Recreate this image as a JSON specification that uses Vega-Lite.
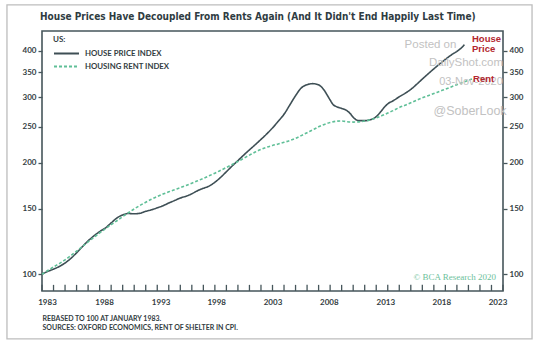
{
  "$schema": "https://vega.github.io/schema/vega-lite/v6.json",
  "width": 461,
  "height": 260,
  "autosize": "none",
  "padding": {"left": 42, "top": 31, "right": 39, "bottom": 60},
  "background": "#ffffff",
  "config": {
    "view": {"stroke": "#46565b", "strokeWidth": 1.6},
    "axis": {
      "labelFont": "Lato",
      "labelFontWeight": "bold",
      "labelFontSize": 8,
      "labelColor": "#333d42",
      "tickColor": "#46565b",
      "tickWidth": 1.3,
      "grid": false,
      "domain": false,
      "labelOverlap": false,
      "labelFlush": false
    },
    "legend": {
      "labelFont": "Lato",
      "labelFontWeight": "bold",
      "labelFontSize": 7.8,
      "labelColor": "#333d42",
      "titleFont": "Lato",
      "titleFontWeight": "bold",
      "titleFontSize": 8,
      "titleColor": "#333d42"
    }
  },
  "datasets": {
    "ticks": [
      {"year": 1983}, {"year": 1984}, {"year": 1985}, {"year": 1986}, {"year": 1987}, {"year": 1988}, {"year": 1989}, {"year": 1990}, {"year": 1991}, {"year": 1992},
      {"year": 1993}, {"year": 1994}, {"year": 1995}, {"year": 1996}, {"year": 1997}, {"year": 1998}, {"year": 1999}, {"year": 2000}, {"year": 2001}, {"year": 2002},
      {"year": 2003}, {"year": 2004}, {"year": 2005}, {"year": 2006}, {"year": 2007}, {"year": 2008}, {"year": 2009}, {"year": 2010}, {"year": 2011}, {"year": 2012},
      {"year": 2013}, {"year": 2014}, {"year": 2015}, {"year": 2016}, {"year": 2017}, {"year": 2018}, {"year": 2019}, {"year": 2020}, {"year": 2021}, {"year": 2022},
      {"year": 2023}
    ],
    "single": [{}]
  },
  "data": {
    "values": [
      {"year": 1983.0, "series": "HOUSE PRICE INDEX", "value": 100},
      {"year": 1983.5, "series": "HOUSE PRICE INDEX", "value": 101.8},
      {"year": 1984.0, "series": "HOUSE PRICE INDEX", "value": 103.2},
      {"year": 1984.5, "series": "HOUSE PRICE INDEX", "value": 104.9},
      {"year": 1985.0, "series": "HOUSE PRICE INDEX", "value": 107.2},
      {"year": 1985.5, "series": "HOUSE PRICE INDEX", "value": 110.3},
      {"year": 1986.0, "series": "HOUSE PRICE INDEX", "value": 114.2},
      {"year": 1986.5, "series": "HOUSE PRICE INDEX", "value": 118.6},
      {"year": 1987.0, "series": "HOUSE PRICE INDEX", "value": 123},
      {"year": 1987.5, "series": "HOUSE PRICE INDEX", "value": 126.8},
      {"year": 1988.0, "series": "HOUSE PRICE INDEX", "value": 130.3},
      {"year": 1988.5, "series": "HOUSE PRICE INDEX", "value": 133.2},
      {"year": 1989.0, "series": "HOUSE PRICE INDEX", "value": 137.5},
      {"year": 1989.5, "series": "HOUSE PRICE INDEX", "value": 141.8},
      {"year": 1990.0, "series": "HOUSE PRICE INDEX", "value": 144.5},
      {"year": 1990.5, "series": "HOUSE PRICE INDEX", "value": 145.8},
      {"year": 1991.0, "series": "HOUSE PRICE INDEX", "value": 145.5},
      {"year": 1991.5, "series": "HOUSE PRICE INDEX", "value": 146},
      {"year": 1992.0, "series": "HOUSE PRICE INDEX", "value": 147.8},
      {"year": 1992.5, "series": "HOUSE PRICE INDEX", "value": 149.2},
      {"year": 1993.0, "series": "HOUSE PRICE INDEX", "value": 151},
      {"year": 1993.5, "series": "HOUSE PRICE INDEX", "value": 153},
      {"year": 1994.0, "series": "HOUSE PRICE INDEX", "value": 155.6},
      {"year": 1994.5, "series": "HOUSE PRICE INDEX", "value": 158},
      {"year": 1995.0, "series": "HOUSE PRICE INDEX", "value": 160.5},
      {"year": 1995.5, "series": "HOUSE PRICE INDEX", "value": 162.3},
      {"year": 1996.0, "series": "HOUSE PRICE INDEX", "value": 164.8},
      {"year": 1996.5, "series": "HOUSE PRICE INDEX", "value": 168},
      {"year": 1997.0, "series": "HOUSE PRICE INDEX", "value": 170.5},
      {"year": 1997.5, "series": "HOUSE PRICE INDEX", "value": 172.8},
      {"year": 1998.0, "series": "HOUSE PRICE INDEX", "value": 177},
      {"year": 1998.5, "series": "HOUSE PRICE INDEX", "value": 182.5},
      {"year": 1999.0, "series": "HOUSE PRICE INDEX", "value": 189},
      {"year": 1999.5, "series": "HOUSE PRICE INDEX", "value": 195.8},
      {"year": 2000.0, "series": "HOUSE PRICE INDEX", "value": 202.5},
      {"year": 2000.5, "series": "HOUSE PRICE INDEX", "value": 209.5},
      {"year": 2001.0, "series": "HOUSE PRICE INDEX", "value": 216.5},
      {"year": 2001.5, "series": "HOUSE PRICE INDEX", "value": 223.5},
      {"year": 2002.0, "series": "HOUSE PRICE INDEX", "value": 231},
      {"year": 2002.5, "series": "HOUSE PRICE INDEX", "value": 239},
      {"year": 2003.0, "series": "HOUSE PRICE INDEX", "value": 248},
      {"year": 2003.5, "series": "HOUSE PRICE INDEX", "value": 258.5},
      {"year": 2004.0, "series": "HOUSE PRICE INDEX", "value": 270},
      {"year": 2004.5, "series": "HOUSE PRICE INDEX", "value": 286},
      {"year": 2005.0, "series": "HOUSE PRICE INDEX", "value": 303},
      {"year": 2005.5, "series": "HOUSE PRICE INDEX", "value": 318},
      {"year": 2005.75, "series": "HOUSE PRICE INDEX", "value": 322},
      {"year": 2006.0, "series": "HOUSE PRICE INDEX", "value": 324.5},
      {"year": 2006.5, "series": "HOUSE PRICE INDEX", "value": 326.5},
      {"year": 2006.9, "series": "HOUSE PRICE INDEX", "value": 325},
      {"year": 2007.25, "series": "HOUSE PRICE INDEX", "value": 320},
      {"year": 2007.5, "series": "HOUSE PRICE INDEX", "value": 313},
      {"year": 2007.75, "series": "HOUSE PRICE INDEX", "value": 304},
      {"year": 2008.0, "series": "HOUSE PRICE INDEX", "value": 295},
      {"year": 2008.25, "series": "HOUSE PRICE INDEX", "value": 287},
      {"year": 2008.5, "series": "HOUSE PRICE INDEX", "value": 283.5},
      {"year": 2008.75, "series": "HOUSE PRICE INDEX", "value": 281.5},
      {"year": 2009.0, "series": "HOUSE PRICE INDEX", "value": 280},
      {"year": 2009.5, "series": "HOUSE PRICE INDEX", "value": 275.5},
      {"year": 2009.75, "series": "HOUSE PRICE INDEX", "value": 271},
      {"year": 2010.0, "series": "HOUSE PRICE INDEX", "value": 265},
      {"year": 2010.25, "series": "HOUSE PRICE INDEX", "value": 261},
      {"year": 2010.5, "series": "HOUSE PRICE INDEX", "value": 259.5},
      {"year": 2011.0, "series": "HOUSE PRICE INDEX", "value": 259.5},
      {"year": 2011.5, "series": "HOUSE PRICE INDEX", "value": 261},
      {"year": 2012.0, "series": "HOUSE PRICE INDEX", "value": 266},
      {"year": 2012.5, "series": "HOUSE PRICE INDEX", "value": 277},
      {"year": 2012.75, "series": "HOUSE PRICE INDEX", "value": 283},
      {"year": 2013.0, "series": "HOUSE PRICE INDEX", "value": 288},
      {"year": 2013.5, "series": "HOUSE PRICE INDEX", "value": 294},
      {"year": 2014.0, "series": "HOUSE PRICE INDEX", "value": 301},
      {"year": 2014.5, "series": "HOUSE PRICE INDEX", "value": 307.5},
      {"year": 2015.0, "series": "HOUSE PRICE INDEX", "value": 315},
      {"year": 2015.5, "series": "HOUSE PRICE INDEX", "value": 325},
      {"year": 2016.0, "series": "HOUSE PRICE INDEX", "value": 336},
      {"year": 2016.5, "series": "HOUSE PRICE INDEX", "value": 347},
      {"year": 2017.0, "series": "HOUSE PRICE INDEX", "value": 358},
      {"year": 2017.5, "series": "HOUSE PRICE INDEX", "value": 369},
      {"year": 2018.0, "series": "HOUSE PRICE INDEX", "value": 379.5},
      {"year": 2018.5, "series": "HOUSE PRICE INDEX", "value": 390},
      {"year": 2019.0, "series": "HOUSE PRICE INDEX", "value": 399},
      {"year": 2019.4, "series": "HOUSE PRICE INDEX", "value": 408},
      {"year": 2019.65, "series": "HOUSE PRICE INDEX", "value": 416},
      {"year": 1983.0, "series": "HOUSING RENT INDEX", "value": 100},
      {"year": 1983.5, "series": "HOUSING RENT INDEX", "value": 102.3},
      {"year": 1984.0, "series": "HOUSING RENT INDEX", "value": 104.6},
      {"year": 1984.5, "series": "HOUSING RENT INDEX", "value": 106.8},
      {"year": 1985.0, "series": "HOUSING RENT INDEX", "value": 109.3},
      {"year": 1985.5, "series": "HOUSING RENT INDEX", "value": 112.2},
      {"year": 1986.0, "series": "HOUSING RENT INDEX", "value": 115.4},
      {"year": 1986.5, "series": "HOUSING RENT INDEX", "value": 118.7},
      {"year": 1987.0, "series": "HOUSING RENT INDEX", "value": 122.2},
      {"year": 1987.5, "series": "HOUSING RENT INDEX", "value": 125.7},
      {"year": 1988.0, "series": "HOUSING RENT INDEX", "value": 129.2},
      {"year": 1988.5, "series": "HOUSING RENT INDEX", "value": 132.6},
      {"year": 1989.0, "series": "HOUSING RENT INDEX", "value": 136},
      {"year": 1989.5, "series": "HOUSING RENT INDEX", "value": 139.4},
      {"year": 1990.0, "series": "HOUSING RENT INDEX", "value": 143},
      {"year": 1990.5, "series": "HOUSING RENT INDEX", "value": 146.5},
      {"year": 1991.0, "series": "HOUSING RENT INDEX", "value": 150},
      {"year": 1991.5, "series": "HOUSING RENT INDEX", "value": 153.3},
      {"year": 1992.0, "series": "HOUSING RENT INDEX", "value": 156.3},
      {"year": 1992.5, "series": "HOUSING RENT INDEX", "value": 159.3},
      {"year": 1993.0, "series": "HOUSING RENT INDEX", "value": 162},
      {"year": 1993.5, "series": "HOUSING RENT INDEX", "value": 164.5},
      {"year": 1994.0, "series": "HOUSING RENT INDEX", "value": 166.8},
      {"year": 1994.5, "series": "HOUSING RENT INDEX", "value": 169},
      {"year": 1995.0, "series": "HOUSING RENT INDEX", "value": 171.2},
      {"year": 1995.5, "series": "HOUSING RENT INDEX", "value": 173.5},
      {"year": 1996.0, "series": "HOUSING RENT INDEX", "value": 176},
      {"year": 1996.5, "series": "HOUSING RENT INDEX", "value": 178.6},
      {"year": 1997.0, "series": "HOUSING RENT INDEX", "value": 181.3},
      {"year": 1997.5, "series": "HOUSING RENT INDEX", "value": 184.2},
      {"year": 1998.0, "series": "HOUSING RENT INDEX", "value": 187.3},
      {"year": 1998.5, "series": "HOUSING RENT INDEX", "value": 190.6},
      {"year": 1999.0, "series": "HOUSING RENT INDEX", "value": 194},
      {"year": 1999.5, "series": "HOUSING RENT INDEX", "value": 197.6},
      {"year": 2000.0, "series": "HOUSING RENT INDEX", "value": 201.4},
      {"year": 2000.5, "series": "HOUSING RENT INDEX", "value": 205.4},
      {"year": 2001.0, "series": "HOUSING RENT INDEX", "value": 209.5},
      {"year": 2001.5, "series": "HOUSING RENT INDEX", "value": 213.5},
      {"year": 2002.0, "series": "HOUSING RENT INDEX", "value": 217},
      {"year": 2002.5, "series": "HOUSING RENT INDEX", "value": 220},
      {"year": 2003.0, "series": "HOUSING RENT INDEX", "value": 222.5},
      {"year": 2003.5, "series": "HOUSING RENT INDEX", "value": 224.5},
      {"year": 2004.0, "series": "HOUSING RENT INDEX", "value": 226.8},
      {"year": 2004.5, "series": "HOUSING RENT INDEX", "value": 229.3},
      {"year": 2005.0, "series": "HOUSING RENT INDEX", "value": 232.5},
      {"year": 2005.5, "series": "HOUSING RENT INDEX", "value": 236.5},
      {"year": 2006.0, "series": "HOUSING RENT INDEX", "value": 240.8},
      {"year": 2006.5, "series": "HOUSING RENT INDEX", "value": 245},
      {"year": 2007.0, "series": "HOUSING RENT INDEX", "value": 249.8},
      {"year": 2007.5, "series": "HOUSING RENT INDEX", "value": 253.5},
      {"year": 2008.0, "series": "HOUSING RENT INDEX", "value": 256.5},
      {"year": 2008.5, "series": "HOUSING RENT INDEX", "value": 258.5},
      {"year": 2009.0, "series": "HOUSING RENT INDEX", "value": 259},
      {"year": 2009.5, "series": "HOUSING RENT INDEX", "value": 257.8},
      {"year": 2010.0, "series": "HOUSING RENT INDEX", "value": 257.2},
      {"year": 2010.5, "series": "HOUSING RENT INDEX", "value": 257.5},
      {"year": 2011.0, "series": "HOUSING RENT INDEX", "value": 258.8},
      {"year": 2011.5, "series": "HOUSING RENT INDEX", "value": 261},
      {"year": 2012.0, "series": "HOUSING RENT INDEX", "value": 264},
      {"year": 2012.5, "series": "HOUSING RENT INDEX", "value": 267.8},
      {"year": 2013.0, "series": "HOUSING RENT INDEX", "value": 272},
      {"year": 2013.5, "series": "HOUSING RENT INDEX", "value": 276.5},
      {"year": 2014.0, "series": "HOUSING RENT INDEX", "value": 281.5},
      {"year": 2014.5, "series": "HOUSING RENT INDEX", "value": 285.5},
      {"year": 2015.0, "series": "HOUSING RENT INDEX", "value": 290},
      {"year": 2015.5, "series": "HOUSING RENT INDEX", "value": 294.5},
      {"year": 2016.0, "series": "HOUSING RENT INDEX", "value": 299},
      {"year": 2016.5, "series": "HOUSING RENT INDEX", "value": 303},
      {"year": 2017.0, "series": "HOUSING RENT INDEX", "value": 307},
      {"year": 2017.5, "series": "HOUSING RENT INDEX", "value": 311.3},
      {"year": 2018.0, "series": "HOUSING RENT INDEX", "value": 315.5},
      {"year": 2018.5, "series": "HOUSING RENT INDEX", "value": 320},
      {"year": 2019.0, "series": "HOUSING RENT INDEX", "value": 324.5},
      {"year": 2019.5, "series": "HOUSING RENT INDEX", "value": 329},
      {"year": 2020.0, "series": "HOUSING RENT INDEX", "value": 333.5},
      {"year": 2020.4, "series": "HOUSING RENT INDEX", "value": 337}
    ]
  },
  "layer": [
    {
      "data": {"name": "single"},
      "mark": {"type": "rect", "filled": false, "color": "#bdbdbd", "strokeWidth": 1.3},
      "encoding": {
        "x": {"datum": 1979.96, "type": "quantitative", "axis": null},
        "x2": {"datum": 2025.52},
        "y": {"datum": 532.4, "type": "quantitative", "axis": null},
        "y2": {"datum": 66.9}
      }
    },
    {
      "data": {"name": "single"},
      "mark": {"type": "text", "font": "DejaVu Sans Condensed", "fontWeight": "bold", "fontSize": 10, "color": "#2f3c42", "align": "left", "baseline": "middle"},
      "encoding": {
        "x": {"datum": 1982.83, "type": "quantitative", "axis": null},
        "y": {"datum": 494.2, "type": "quantitative", "axis": null},
        "text": {"value": "House Prices Have Decoupled From Rents Again (And It Didn't End Happily Last Time)"}
      }
    },
    {
      "mark": {"type": "line", "strokeWidth": 1.6, "interpolate": "monotone"},
      "encoding": {
        "x": {
          "field": "year",
          "type": "quantitative",
          "scale": {"domain": [1983, 2023], "nice": false, "zero": false},
          "axis": {
            "values": [1983, 1988, 1993, 1998, 2003, 2008, 2013, 2018, 2023],
            "format": "d",
            "labelOverlap": false,
            "labelFlush": false,
            "ticks": false,
            "labelPadding": 7,
            "labelOffset": {
              "condition": [
                {"test": "datum.value == 1983", "value": 5},
                {"test": "datum.value == 1988", "value": 4.4},
                {"test": "datum.value == 1993", "value": 3.4},
                {"test": "datum.value == 1998", "value": 1.3},
                {"test": "datum.value == 2008", "value": -1.3},
                {"test": "datum.value == 2013", "value": -2.4},
                {"test": "datum.value == 2018", "value": -4},
                {"test": "datum.value == 2023", "value": -5.5}
              ],
              "value": 0
            },
            "title": ["REBASED TO 100 AT JANUARY 1983.", "SOURCES: OXFORD ECONOMICS, RENT OF SHELTER IN CPI."],
            "titleFont": "Lato",
            "titleFontWeight": "bold",
            "titleFontSize": 7,
            "titleColor": "#333d42",
            "titleAnchor": "start",
            "titleAlign": "left",
            "titleLineHeight": 9.5,
            "titlePadding": 8
          }
        },
        "y": {
          "field": "value",
          "type": "quantitative",
          "scale": {"type": "log", "domain": [90.1, 452.8], "nice": false},
          "axis": {
            "orient": "left",
            "values": [100, 150, 200, 250, 300, 350, 400],
            "format": "d",
            "tickSize": 4,
            "labelPadding": 2,
            "title": null
          }
        },
        "color": {
          "field": "series",
          "type": "nominal",
          "scale": {"domain": ["HOUSE PRICE INDEX", "HOUSING RENT INDEX"], "range": ["#3e4f55", "#5fbf97"]},
          "legend": {
            "title": "US:",
            "orient": "none",
            "legendX": 11,
            "legendY": 5,
            "symbolType": "stroke",
            "symbolSize": 625,
            "symbolStrokeWidth": 1.8,
            "clipHeight": 11,
            "rowPadding": 2,
            "labelOffset": 5,
            "titlePadding": 4,
            "padding": 0
          }
        },
        "strokeDash": {
          "field": "series",
          "type": "nominal",
          "scale": {"domain": ["HOUSE PRICE INDEX", "HOUSING RENT INDEX"], "range": [[1, 0], [3, 2]]},
          "legend": {
            "title": "US:",
            "orient": "none",
            "legendX": 11,
            "legendY": 5,
            "symbolType": "stroke",
            "symbolSize": 625,
            "symbolStrokeWidth": 1.8,
            "clipHeight": 11,
            "rowPadding": 2,
            "labelOffset": 5,
            "titlePadding": 4,
            "padding": 0
          }
        }
      }
    },
    {
      "data": {"name": "ticks"},
      "mark": {"type": "rule", "color": "#46565b", "strokeWidth": 1.3},
      "encoding": {
        "x": {"field": "year", "type": "quantitative", "axis": null},
        "y": {"datum": 90.1, "type": "quantitative", "axis": null},
        "y2": {"datum": 93.6}
      }
    },
    {
      "data": {"name": "single"},
      "mark": {"type": "text", "font": "Liberation Sans", "fontSize": 11.5, "color": "#c2c2c2", "align": "center", "baseline": "middle"},
      "encoding": {
        "x": {"datum": 2016.71, "type": "quantitative", "axis": null},
        "y": {"datum": 414.4, "type": "quantitative", "axis": null},
        "text": {"value": "Posted on"}
      }
    },
    {
      "data": {"name": "single"},
      "mark": {"type": "text", "font": "Liberation Sans", "fontSize": 11.5, "color": "#c2c2c2", "align": "center", "baseline": "middle"},
      "encoding": {
        "x": {"datum": 2019.79, "type": "quantitative", "axis": null},
        "y": {"datum": 370.5, "type": "quantitative", "axis": null},
        "text": {"value": "DailyShot.com"}
      }
    },
    {
      "data": {"name": "single"},
      "mark": {"type": "text", "font": "Liberation Sans", "fontSize": 11, "color": "#c2c2c2", "align": "center", "baseline": "middle"},
      "encoding": {
        "x": {"datum": 2020.22, "type": "quantitative", "axis": null},
        "y": {"datum": 330.4, "type": "quantitative", "axis": null},
        "text": {"value": "03-Nov-2020"}
      }
    },
    {
      "data": {"name": "single"},
      "mark": {"type": "text", "font": "Liberation Sans", "fontSize": 12.5, "color": "#c2c2c2", "align": "center", "baseline": "middle"},
      "encoding": {
        "x": {"datum": 2020.14, "type": "quantitative", "axis": null},
        "y": {"datum": 275.1, "type": "quantitative", "axis": null},
        "text": {"value": "@SoberLook"}
      }
    },
    {
      "data": {"name": "single"},
      "mark": {"type": "text", "font": "Liberation Sans", "fontWeight": "bold", "fontSize": 9.5, "color": "#b3262e", "align": "left", "baseline": "middle"},
      "encoding": {
        "x": {"datum": 2020.31, "type": "quantitative", "axis": null},
        "y": {"datum": 431.9, "type": "quantitative", "axis": null},
        "text": {"value": "House"}
      }
    },
    {
      "data": {"name": "single"},
      "mark": {"type": "text", "font": "Liberation Sans", "fontWeight": "bold", "fontSize": 9.5, "color": "#b3262e", "align": "left", "baseline": "middle"},
      "encoding": {
        "x": {"datum": 2020.31, "type": "quantitative", "axis": null},
        "y": {"datum": 404, "type": "quantitative", "axis": null},
        "text": {"value": "Price"}
      }
    },
    {
      "data": {"name": "single"},
      "mark": {"type": "text", "font": "Liberation Sans", "fontWeight": "bold", "fontSize": 9.5, "color": "#b3262e", "align": "left", "baseline": "middle"},
      "encoding": {
        "x": {"datum": 2020.4, "type": "quantitative", "axis": null},
        "y": {"datum": 337, "type": "quantitative", "axis": null},
        "text": {"value": "Rent"}
      }
    },
    {
      "data": {"name": "single"},
      "mark": {"type": "text", "font": "Liberation Serif", "fontSize": 9, "color": "#6cbf9b", "align": "right", "baseline": "middle"},
      "encoding": {
        "x": {"datum": 2022.39, "type": "quantitative", "axis": null},
        "y": {
          "datum": 98.5,
          "type": "quantitative",
          "axis": {
            "orient": "right",
            "values": [100, 150, 200, 250, 300, 350, 400],
            "format": "d",
            "tickSize": 4,
            "labelPadding": 2,
            "title": null
          }
        },
        "text": {"value": "© BCA Research 2020"}
      }
    }
  ],
  "resolve": {"axis": {"x": "independent", "y": "independent"}}
}
